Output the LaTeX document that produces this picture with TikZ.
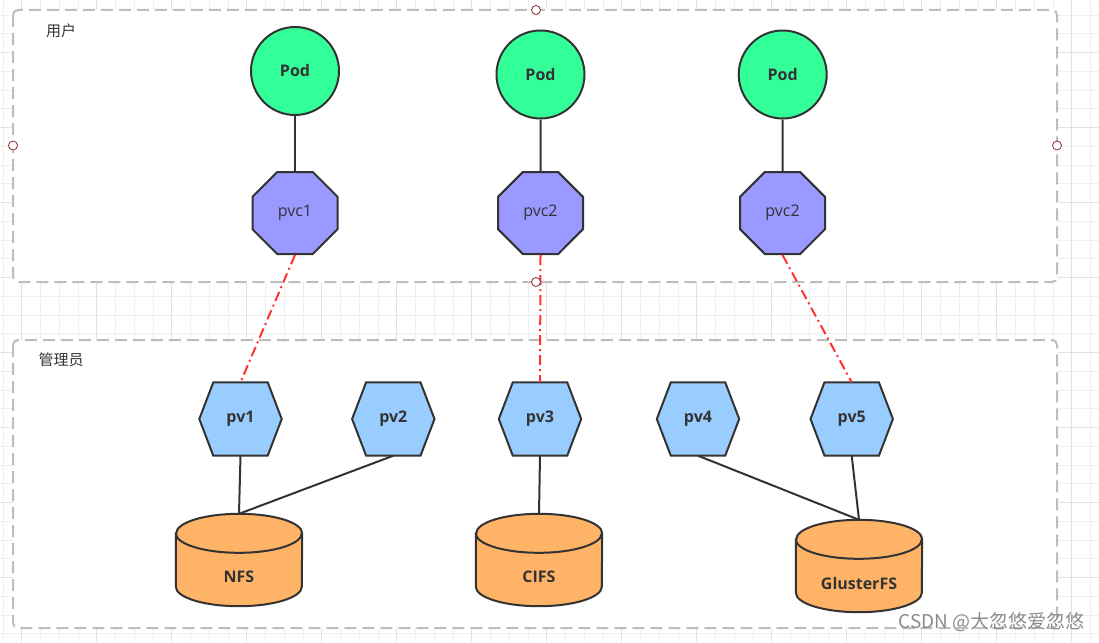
\documentclass[tikz,border=0pt]{standalone}
\usepackage{fontspec}
\setmainfont{Open Sans}
\newfontfamily\cjk{Noto Sans CJK SC}
\usetikzlibrary{shapes.misc}

\definecolor{inkgray}{HTML}{333333}
\definecolor{boxgray}{HTML}{BDBDBD}
\definecolor{gridgray}{HTML}{EFEFEF}
\definecolor{gridmajor}{HTML}{E2E2E2}
\definecolor{podgreen}{HTML}{33FF99}
\definecolor{pvcviolet}{HTML}{9999FF}
\definecolor{pvblue}{HTML}{99CCFF}
\definecolor{diskorange}{HTML}{FFB366}
\definecolor{bindred}{HTML}{FF3333}
\definecolor{handlered}{HTML}{8B2E2E}

\tikzset{
  groupbox/.style={draw=boxgray, line width=2pt, fill=white, rounded corners=5pt,
    dash pattern=on 12pt off 6pt},
  handle/.style={draw=handlered, line width=0.8pt, fill=white},
  podnode/.style={circle, draw=inkgray, line width=2pt, fill=podgreen, minimum size=88pt,
    inner sep=0pt, text=inkgray, font=\bfseries\fontsize{16}{16}\selectfont},
  pvcnode/.style={chamfered rectangle, chamfered rectangle xsep=20pt, chamfered rectangle ysep=23pt,
    draw=inkgray, line width=2pt, fill=pvcviolet, minimum width=85pt, minimum height=82pt,
    inner sep=0pt, text=inkgray, font=\fontsize{16}{16}\selectfont},
  pvnode/.style={rectangle, minimum width=82pt, minimum height=73pt, inner sep=0pt},
  pvedge/.style={draw=inkgray, line width=2pt, fill=pvblue},
  disknode/.style={rectangle, minimum width=126pt, minimum height=92pt, inner sep=0pt},
  diskedge/.style={draw=inkgray, line width=2pt, fill=diskorange},
  boldlabel/.style={text=inkgray, font=\bfseries\fontsize{16}{16}\selectfont},
  grouplabel/.style={text=inkgray, font=\cjk\fontsize{15}{15}\selectfont},
  mount/.style={draw=inkgray, line width=2pt},
  bind/.style={draw=bindred, line width=2pt, dash pattern=on 10pt off 4pt on 2pt off 4pt}
}

% hexagon volume: name, position, text
\newcommand\pvhex[3]{%
  \node[pvnode] (#1) at (#2) {};
  \filldraw[pvedge] (#1.west) -- ([xshift=14pt]#1.north west) -- ([xshift=-14pt]#1.north east)
    -- (#1.east) -- ([xshift=-14pt]#1.south east) -- ([xshift=14pt]#1.south west) -- cycle;
  \node[boldlabel] (#1text) at (#1) {#3};}

% storage cylinder: name, position, text
\newcommand\disk[3]{%
  \node[disknode] (#1) at (#2) {};
  \filldraw[diskedge] ([yshift=-19.5pt]#1.north west) -- ([yshift=19.5pt]#1.south west)
    arc[start angle=180, end angle=360, x radius=63pt, y radius=19.5pt]
    -- ([yshift=-19.5pt]#1.north east)
    arc[start angle=0, end angle=180, x radius=63pt, y radius=19.5pt] -- cycle;
  \draw[diskedge, fill=none] ([yshift=-19.5pt]#1.north west)
    arc[start angle=180, end angle=360, x radius=63pt, y radius=19.5pt];
  \node[boldlabel] (#1text) at ([yshift=-17pt]#1.center) {#3};}

\begin{document}
\begin{tikzpicture}[x=1pt, y=-1pt]
  \useasboundingbox (0,0) rectangle (1099,642);
  % background grid
  \foreach \i in {0,...,58}
    \draw[gridgray, line width=0.8pt] (2.95+18.75*\i,0) -- (2.95+18.75*\i,642);
  \foreach \i in {0,...,34}
    \draw[gridgray, line width=0.8pt] (0,15+18.75*\i) -- (1099,15+18.75*\i);
  \foreach \i in {0,...,14}
    \draw[gridmajor, line width=0.8pt] (21.7+75*\i,0) -- (21.7+75*\i,642);
  \foreach \i in {0,...,8}
    \draw[gridmajor, line width=0.8pt] (0,52.5+75*\i) -- (1099,52.5+75*\i);

  % groups
  \draw[groupbox] (13,10) rectangle (1057,282);
  \draw[groupbox] (13,340) rectangle (1057,628);
  \node[grouplabel] (user) at (61,31) {用户};
  \node[grouplabel] (admin) at (61,360) {管理员};

  % pods and claims
  \node[podnode] (pod1) at (295,71) {Pod};
  \node[podnode] (pod2) at (540.5,74.5) {Pod};
  \node[podnode] (pod3) at (782.7,74.5) {Pod};
  \node[pvcnode] (pvc1) at (295,213) {pvc1};
  \node[pvcnode] (pvc2) at (540.5,213) {pvc2};
  \node[pvcnode] (pvc3) at (782.5,213) {pvc2};
  \draw[mount] (pod1) -- (pvc1);
  \draw[mount] (pod2) -- (pvc2);
  \draw[mount] (pod3) -- (pvc3);

  % volumes
  \pvhex{pv1}{240.5,419}{pv1}
  \pvhex{pv2}{393.3,419}{pv2}
  \pvhex{pv3}{540,419}{pv3}
  \pvhex{pv4}{698,419}{pv4}
  \pvhex{pv5}{851.7,419}{pv5}

  % storage
  \disk{nfs}{239,560}{NFS}
  \disk{cifs}{539,560}{CIFS}
  \disk{gluster}{859,566}{GlusterFS}

  \draw[mount] (pv1.south) -- (nfs.north);
  \draw[mount] (pv2.south) -- (nfs.north);
  \draw[mount] (pv3.south) -- (cifs.north);
  \draw[mount] (pv4.south) -- (gluster.north);
  \draw[mount] (pv5.south) -- (gluster.north);

  % bindings
  \draw[bind] (pvc1.south) -- (pv1.north);
  \draw[bind] (pvc2.south) -- (pv3.north);
  \draw[bind] (pvc3.south) -- (pv5.north);

  % selection handles
  \draw[handle] (536,10) circle (4.5);
  \draw[handle] (13,145.5) circle (4.5);
  \draw[handle] (1057,145.5) circle (4.5);
  \draw[handle] (536,282) circle (4.5);

  \node[text=black!45, font=\cjk\fontsize{19}{19}\selectfont, anchor=east] (mark) at (1088,622) {CSDN @大忽悠爱忽悠};
\end{tikzpicture}
\end{document}
